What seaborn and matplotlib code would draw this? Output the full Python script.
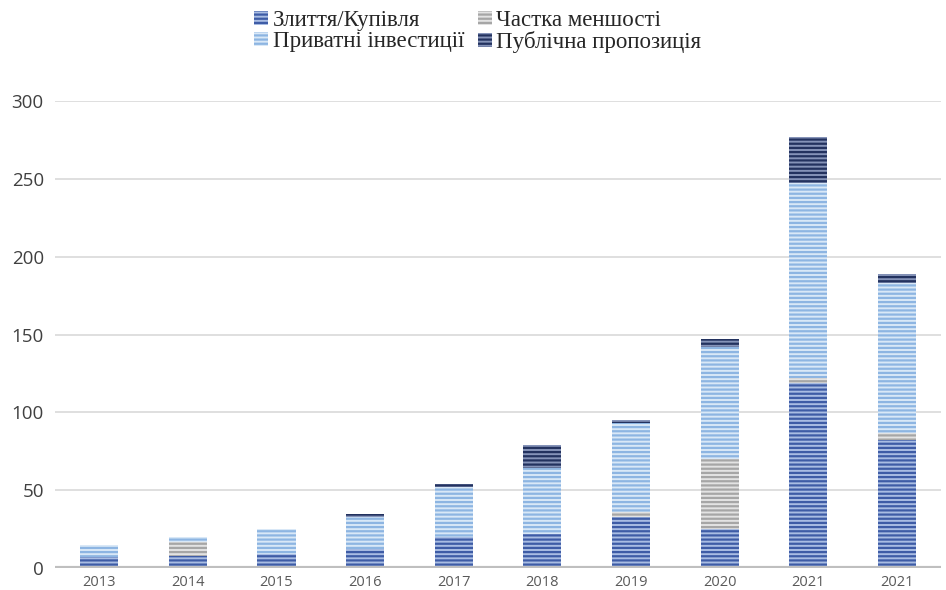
import numpy as np
import pandas as pd
import matplotlib
matplotlib.use("Agg")
import matplotlib.pyplot as plt
import seaborn as sns
from matplotlib.patches import Patch

years = ["2013", "2014", "2015", "2016", "2017", "2018", "2019", "2020", "2021", "2021"]
series = ["Злиття/Купівля", "Частка меншості", "Приватні інвестиції", "Публічна пропозиція"]
merger = [7, 8, 9, 12, 20, 22, 33, 25, 119, 82]
minority = [0, 9, 0, 0, 0, 0, 3, 45, 3, 5]
private = [8, 3, 16, 21, 32, 42, 57, 72, 125, 96]
public = [0, 0, 0, 2, 2, 15, 2, 5, 30, 6]

face_colors = ["#a9bde3", "#e3e3e3", "#d9e8f7", "#8593b8"]
hatch_colors = ["#3e5ca6", "#a6a6a6", "#8db5e2", "#23325f"]

sns.set_style("white")
plt.rcParams["hatch.linewidth"] = 1.6

df = pd.DataFrame({"pos": [str(i) for i in range(len(years))],
                   "merger": merger, "minority": minority,
                   "private": private, "public": public})
cols = ["merger", "minority", "private", "public"]
cum = df[cols].cumsum(axis=1)

fig, ax = plt.subplots(figsize=(9.46, 5.9), dpi=100)
fig.subplots_adjust(left=0.058, right=0.995, bottom=0.037, top=0.829)

ax.set_axisbelow(True)
ax.yaxis.grid(True, color="#d9d9d9", linewidth=1.2)

order = list(df["pos"])
# draw cumulative totals from the top layer down so each segment shows
for i in range(len(cols) - 1, -1, -1):
    sns.barplot(x=df["pos"], y=cum[cols[i]], order=order, ax=ax,
                color=face_colors[i], edgecolor=hatch_colors[i], hatch="----",
                linewidth=0, width=0.43, saturation=1, errorbar=None)

ax.axhline(0, color="#bfbfbf", linewidth=3, zorder=5)
ax.set_ylim(0, 300)
ax.set_xlim(-0.5, len(years) - 0.5)
ax.set_yticks(range(0, 301, 50))
ax.set_xticks(range(len(years)))
ax.set_xticklabels(years, fontfamily="Open Sans", fontsize=10.5, color="#595959")
ax.set_yticklabels([str(v) for v in range(0, 301, 50)],
                   fontfamily="Open Sans", fontsize=13.5, color="#404040")
ax.tick_params(axis="x", length=0, pad=5)
ax.tick_params(axis="y", length=0, pad=8)
ax.set_xlabel("")
ax.set_ylabel("")
sns.despine(ax=ax, left=True, bottom=True)

handles = [Patch(facecolor=face_colors[i], edgecolor=hatch_colors[i], hatch="----",
                 linewidth=0, label=series[i]) for i in range(4)]
leg = fig.legend(handles=[handles[0], handles[2], handles[1], handles[3]], ncol=2,
                 loc="upper center", bbox_to_anchor=(0.505, 1.018), frameon=False,
                 prop={"family": "Liberation Serif", "size": 16.5},
                 handlelength=0.6, handleheight=0.6, handletextpad=0.2,
                 columnspacing=0.6, labelspacing=0.0)

fig.savefig("out.png", dpi=100)
